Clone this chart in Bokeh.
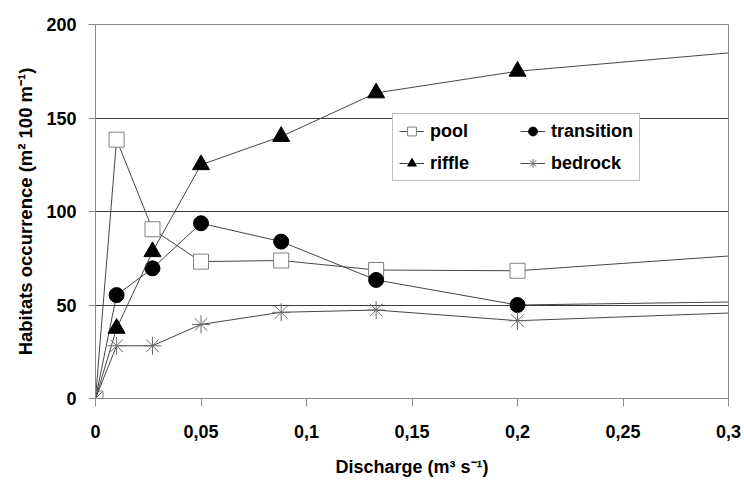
from bokeh.plotting import figure
from bokeh.models import (Range1d, FixedTicker, CustomJSTickFormatter, Legend,
                          LegendItem, ColumnDataSource)
from bokeh.embed import file_html
from bokeh.resources import INLINE

# ---- data ----
discharge = [0, 0.010, 0.027, 0.050, 0.088, 0.133, 0.200, 0.300]
pool = [0, 138.4, 90.5, 73.2, 73.8, 68.7, 68.3, 76.2]
riffle = [0, 37.5, 78.5, 125.0, 140.1, 163.4, 175.0, 184.8]
transition = [0, 55.3, 69.6, 93.7, 83.9, 63.4, 50.0, 51.6]
bedrock = [0, 28.2, 28.2, 39.6, 46.1, 47.3, 41.6, 45.7]

x_ticks = [0, 0.05, 0.10, 0.15, 0.20, 0.25, 0.30]
y_ticks = [0, 50, 100, 150, 200]

FONT = "Liberation Sans"
LINE_COL = "#454545"

p = figure(frame_width=633, frame_height=374,
           min_border_left=95, min_border_right=16,
           min_border_top=24, min_border_bottom=82,
           x_range=Range1d(0, 0.3), y_range=Range1d(0, 200),
           output_backend="svg", toolbar_location=None,
           background_fill_color="white", border_fill_color="white")

p.outline_line_color = "#8a8a8a"
p.outline_line_width = 1
p.xgrid.visible = False
p.ygrid.grid_line_color = "#3a3a3a"
p.ygrid.grid_line_width = 1
p.ygrid.ticker = FixedTicker(ticks=y_ticks)

for ax in (p.xaxis[0], p.yaxis[0]):
    ax.axis_line_color = "#8a8a8a"
    ax.major_tick_line_color = "#8a8a8a"
    ax.minor_tick_line_color = None
    ax.major_tick_in = 0
    ax.major_label_text_font = FONT
    ax.major_label_text_font_style = "bold"
    ax.major_label_text_font_size = "18px"
    ax.major_label_text_color = "black"
    ax.axis_label_text_font = FONT
    ax.axis_label_text_font_style = "bold"
    ax.axis_label_text_font_size = "18px"
    ax.axis_label_text_color = "black"

p.xaxis[0].ticker = FixedTicker(ticks=x_ticks)
p.xaxis[0].formatter = CustomJSTickFormatter(code="""
    if (Math.abs(tick) < 1e-9) return '0';
    return tick.toFixed(2).replace(/0+$/, '').replace('.', ',');
""")
p.xaxis[0].major_tick_out = 8
p.xaxis[0].major_label_standoff = 18
p.xaxis[0].axis_label = "Discharge (m\u00b3 s\u207b\u00b9)"
p.xaxis[0].axis_label_standoff = 16

p.yaxis[0].ticker = FixedTicker(ticks=y_ticks)
p.yaxis[0].major_tick_out = 7
p.yaxis[0].major_label_standoff = 12
p.yaxis[0].axis_label = "Habitats occurrence (m\u00b2 100 m\u207b\u00b9)"
p.yaxis[0].axis_label_text_font_size = "18.5px"
p.yaxis[0].axis_label_standoff = 7

series = [
    ("pool", pool, dict(marker="square", size=15, fill_color="white",
                        line_color="#808080", line_width=1), 0),
    ("transition", transition, dict(marker="circle", size=15, fill_color="black",
                                    line_color="black"), 1),
    ("riffle", riffle, dict(marker="triangle", size=17, fill_color="black",
                            line_color="black"), 1),
    ("bedrock", bedrock, dict(marker="asterisk", size=18, line_color="#6a6a6a",
                              line_width=1), 0),
]

items = []
for name, vals, mk, first in series:
    src = ColumnDataSource(dict(x=discharge, y=vals))
    ln = p.line("x", "y", source=src, line_color=LINE_COL, line_width=1)
    msrc = ColumnDataSource(dict(x=discharge[first:-1], y=vals[first:-1]))
    sc = p.scatter("x", "y", source=msrc, **mk)
    items.append(LegendItem(label=name, renderers=[ln, sc]))

legend = Legend(items=items, location=(297, 217), orientation="horizontal",
                ncols=2,
                label_text_font=FONT, label_text_font_style="bold",
                label_text_font_size="18px", label_text_color="black",
                glyph_width=25, glyph_height=22, label_standoff=6,
                label_width=80, label_height=22,
                spacing=10, padding=6, margin=0,
                border_line_color="#808080", border_line_width=1,
                background_fill_color="white", background_fill_alpha=1.0)
p.add_layout(legend, "center")

open("out.html", "w").write(file_html(p, INLINE))
